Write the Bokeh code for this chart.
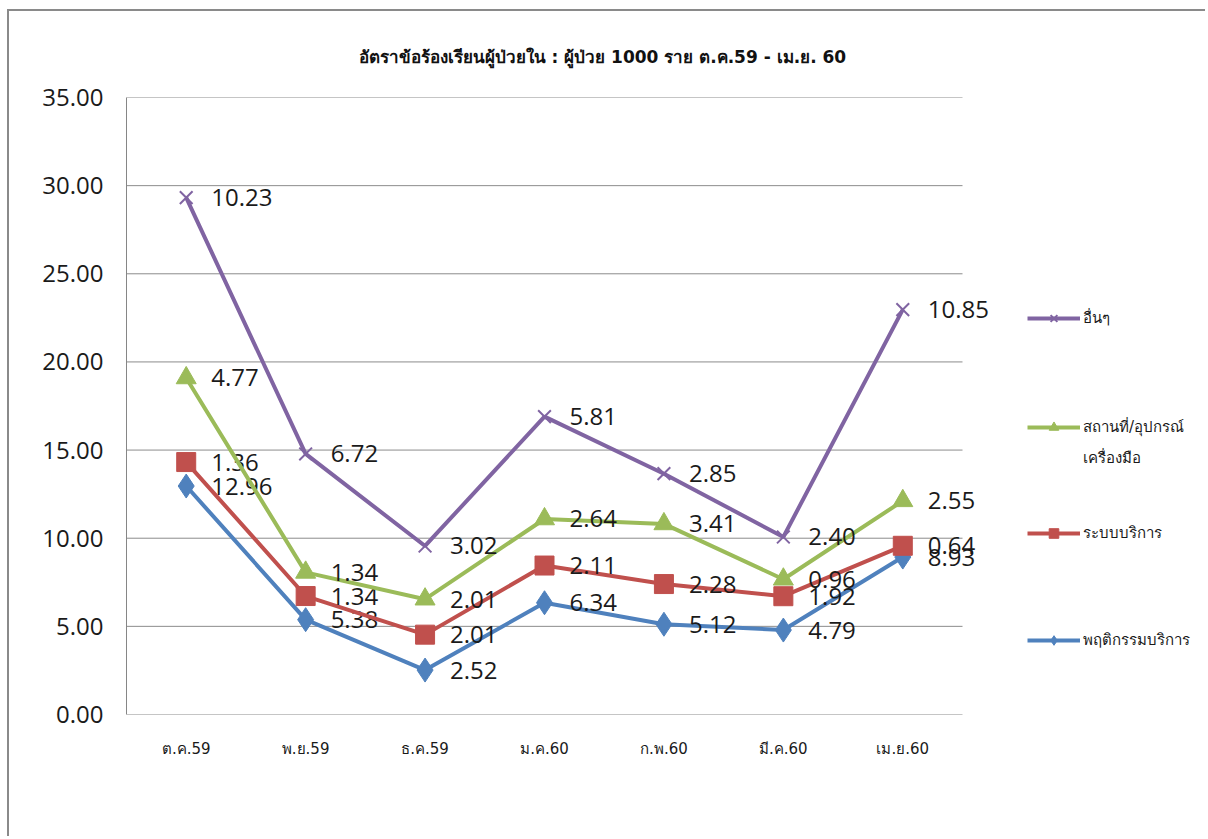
from bokeh.plotting import figure
from bokeh.models import (ColumnDataSource, Range1d, FixedTicker, Legend, LegendItem,
                          NumeralTickFormatter)
from bokeh.core.properties import value
from bokeh.embed import file_html
from bokeh.resources import INLINE

months = ["ต.ค.59", "พ.ย.59", "ธ.ค.59", "ม.ค.60", "ก.พ.60", "มี.ค.60", "เม.ย.60"]
behavior = [12.96, 5.38, 2.52, 6.34, 5.12, 4.79, 8.93]
system = [1.36, 1.34, 2.01, 2.11, 2.28, 1.92, 0.64]
place = [4.77, 1.34, 2.01, 2.64, 3.41, 0.96, 2.55]
other = [10.23, 6.72, 3.02, 5.81, 2.85, 2.40, 10.85]
y_ticks = [0, 5, 10, 15, 20, 25, 30, 35]
title_text = "อัตราข้อร้องเรียนผู้ป่วยใน : ผู้ป่วย 1000 ราย ต.ค.59 -  เม.ย. 60"

series = [
    ("พฤติกรรมบริการ", behavior, "#4F81BD", "diamond"),
    ("ระบบบริการ", system, "#C0504D", "square"),
    ("สถานที่/อุปกรณ์", place, "#9BBB59", "triangle"),
    ("อื่นๆ", other, "#8064A2", "x"),
]
extra_line = "เครื่องมือ"

# layout (pixels)
W, H = 1198, 827
MBL, MBR, MBT, MBB = 117, 0, 86, 124
cat_px = 836 / 7.0
frame_w = W - MBL - MBR
x_start = -0.5
x_end = x_start + frame_w / cat_px
n = len(months)

p = figure(width=W, height=H, output_backend="svg", toolbar_location=None,
           x_range=Range1d(x_start, x_end), y_range=Range1d(0, 35),
           min_border_left=MBL, min_border_top=MBT, min_border_right=MBR,
           min_border_bottom=MBB)
p.styles = {"margin-left": "7px", "margin-top": "9px",
            "border-left": "2px solid #8a8a8a", "border-top": "2px solid #8a8a8a"}

p.title.text = title_text
p.title.align = "left"
p.title.offset = 232
p.title.standoff = 62
p.title.text_font = "DejaVu Sans"
p.title.text_font_size = "17px"
p.title.text_font_style = "bold"
p.title.text_color = "#111111"

p.outline_line_color = None
p.xgrid.grid_line_color = None
p.ygrid.grid_line_color = None

# horizontal gridlines spanning the category area only
p.segment(x0=[x_start] * len(y_ticks), x1=[n - 0.5] * len(y_ticks),
          y0=y_ticks, y1=y_ticks, line_color="#8c8c8c", line_width=1)

p.yaxis.ticker = FixedTicker(ticks=y_ticks)
p.yaxis.formatter = NumeralTickFormatter(format="0.00")
p.yaxis.major_label_text_font = "Open Sans"
p.yaxis.major_label_text_font_size = "24px"
p.yaxis.major_label_text_color = "#1a1a1a"
p.yaxis.major_tick_line_color = None
p.yaxis.minor_tick_line_color = None
p.yaxis.axis_line_color = "#868686"
p.yaxis.major_label_standoff = 17

p.xaxis.ticker = FixedTicker(ticks=list(range(n)))
p.xaxis.major_label_overrides = {i: m for i, m in enumerate(months)}
p.xaxis.major_label_text_font = "DejaVu Sans"
p.xaxis.major_label_text_font_size = "15px"
p.xaxis.major_label_text_color = "#1a1a1a"
p.xaxis.major_tick_line_color = None
p.xaxis.minor_tick_line_color = None
p.xaxis.axis_line_color = None
p.xaxis.major_label_standoff = 19

xs = list(range(n))
cum = [0.0] * n
items = {}
for name, vals, color, marker in series:
    cum = [round(c + v, 2) for c, v in zip(cum, vals)]
    src = ColumnDataSource(dict(x=xs, y=list(cum), lab=["%.2f" % v for v in vals]))
    lr = p.line("x", "y", source=src, line_color=color, line_width=4)
    if marker == "x":
        sr = p.scatter("x", "y", source=src, marker="x", size=18, line_color=color, line_width=2)
    else:
        size = {"diamond": 24, "square": 19, "triangle": 20}[marker]
        sr = p.scatter("x", "y", source=src, marker=marker, size=size, fill_color=color,
                       line_color=color)
    p.text("x", "y", text="lab", source=src, x_offset=25, text_baseline="middle",
           text_align="left", text_font=value("Open Sans"), text_font_size="24px",
           text_color="#1a1a1a")
    items[name] = LegendItem(label=name, renderers=[lr, sr])

dummy = p.line(x=[], y=[], line_alpha=0)
items[extra_line] = LegendItem(label=extra_line, renderers=[dummy])

def make_legend(names, loc, spacing):
    lg = Legend(items=[items[k] for k in names], location=loc, glyph_width=53,
                glyph_height=24, label_height=24, spacing=spacing, padding=0, margin=0,
                border_line_color=None, background_fill_alpha=0,
                label_text_font="DejaVu Sans", label_text_font_size="15px",
                label_text_color="#1a1a1a", label_standoff=3)
    p.add_layout(lg, "center")

make_legend(["อื่นๆ", "สถานที่/อุปกรณ์"], (901, 275), 85)
make_legend([extra_line], (901, 244), 0)
make_legend(["ระบบบริการ", "พฤติกรรมบริการ"], (901, 62), 83)

open("out.html", "w").write(file_html(p, INLINE))
